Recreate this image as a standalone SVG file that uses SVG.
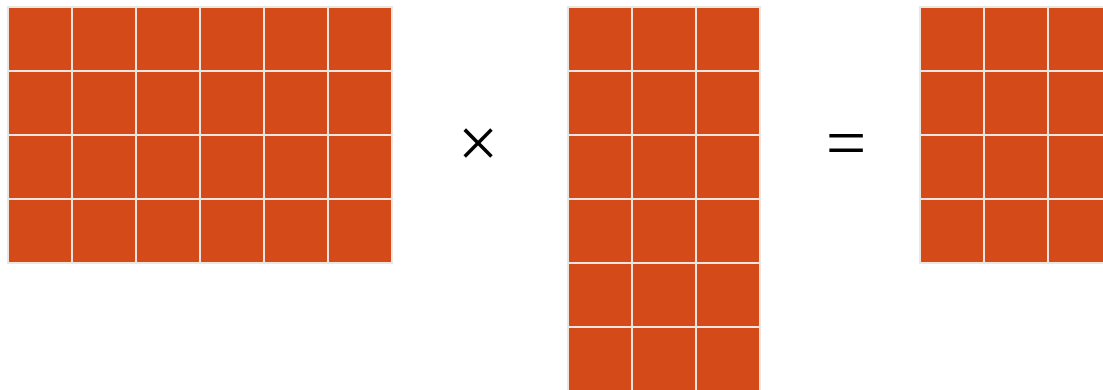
<svg xmlns="http://www.w3.org/2000/svg" width="1103" height="390" viewBox="0 0 1103 390">
<style>
.m{fill:#d44a18;}
.g{fill:none;stroke:#ebe7e0;stroke-width:2;}
.op{font-family:"Liberation Serif",serif;font-size:72px;fill:#000;text-anchor:middle;}
</style>
<rect width="1103" height="390" fill="#fff"/>
<g id="matrixA">
<rect class="m" x="8" y="7" width="384" height="256"/>
<path class="g" d="M8 7H392V263H8Z M72 7V263 M136 7V263 M200 7V263 M264 7V263 M328 7V263 M8 71H392 M8 135H392 M8 199H392"/>
</g>
<g id="matrixB">
<rect class="m" x="568" y="7" width="192" height="384"/>
<path class="g" d="M568 7H760V391H568Z M632 7V391 M696 7V391 M568 71H760 M568 135H760 M568 199H760 M568 263H760 M568 327H760"/>
</g>
<g id="matrixC">
<rect class="m" x="920" y="7" width="192" height="256"/>
<path class="g" d="M920 7H1112V263H920Z M984 7V263 M1048 7V263 M920 71H1112 M920 135H1112 M920 199H1112"/>
</g>
<g id="times"><text class="op" x="478" y="167">×</text></g>
<g id="equals"><text class="op" x="846" y="167">=</text></g>
</svg>
